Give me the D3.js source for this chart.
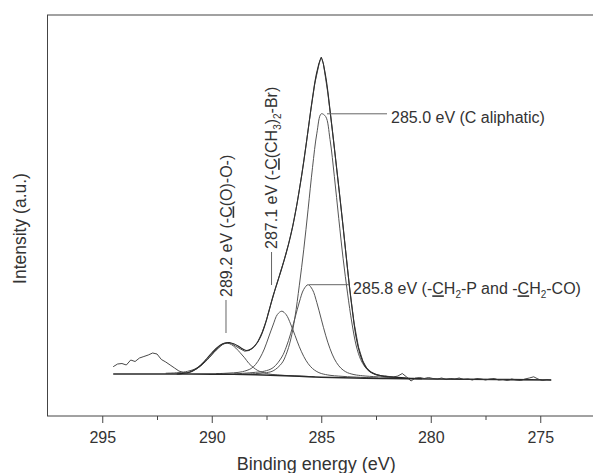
<!DOCTYPE html>
<html>
<head>
<meta charset="utf-8">
<script src="https://cdn.jsdelivr.net/npm/d3@7"></script>
<style>
  body { margin: 0; background: #fff; }
  svg text { font-family: "Liberation Sans", Arial, Helvetica, sans-serif; fill: #333; }
</style>
</head>
<body>
<div id="graph"></div>
<script>
// C 1s spectrum, [binding energy (eV), counts]
const rawSpectrum = [
  [294.5,493],[294.3,520],[294.1,525],[293.9,510],[293.7,560],[293.5,545],[293.3,580],[293.1,595],
  [292.9,610],[292.7,630],[292.5,620],[292.3,565],[292.1,540],[291.9,510],[291.7,480],[291.5,450],
  [291.3,435],[291.1,430],[290.9,445],[290.7,470],[290.5,500],[290.3,545],[290.1,590],[289.9,640],
  [289.7,680],[289.5,720],[289.3,733],[289.1,725],[288.9,697],[288.7,672],[288.5,648],[288.3,655],
  [288.1,685],[287.9,740],[287.7,835],[287.5,960],[287.3,1120],[287.1,1270],[286.9,1410],[286.7,1555],
  [286.5,1715],[286.3,1900],[286.1,2130],[285.9,2400],[285.7,2700],[285.5,3020],[285.3,3320],[285.1,3520],
  [285.0,3590],[284.9,3520],[284.7,3230],[284.5,2870],[284.3,2480],[284.1,2090],[283.9,1680],[283.7,1270],
  [283.5,930],[283.3,690],[283.1,550],[282.9,470],[282.7,435],[282.5,415],[282.3,405],[282.1,400],
  [281.9,395],[281.7,390],[281.5,400],[281.3,425],[281.1,390],[280.9,350],[280.7,380],[280.5,385],
  [280.3,375],[280.1,385],[279.9,375],[279.7,370],[279.5,380],[279.3,365],[279.1,375],[278.9,370],
  [278.7,380],[278.5,365],[278.3,370],[278.1,360],[277.9,375],[277.7,370],[277.5,360],[277.3,370],
  [277.1,375],[276.9,360],[276.7,365],[276.5,355],[276.3,370],[276.1,360],[275.9,355],[275.7,370],
  [275.5,380],[275.3,392],[275.1,370],[274.9,355],[274.7,365],[274.5,360]
]

// fitted envelope
const envelope = [
  [291.6,420],[291.4,424],[291.2,430],[291.0,440],[290.8,460],[290.6,490],[290.4,530],[290.2,580],
  [290.0,630],[289.8,675],[289.6,710],[289.4,730],[289.2,735],[289.0,722],[288.8,700],[288.6,672],
  [288.4,655],[288.2,670],[288.0,710],[287.8,780],[287.6,890],[287.4,1040],[287.2,1200],[287.0,1340],
  [286.8,1480],[286.6,1630],[286.4,1800],[286.2,2010],[286.0,2260],[285.8,2540],[285.6,2860],[285.4,3180],
  [285.2,3440],[285.0,3580],[284.8,3400],[284.6,3060],[284.4,2680],[284.2,2290],[284.0,1890],[283.8,1470],
  [283.6,1090],[283.4,780],[283.2,600],[283.0,500],[282.8,450],[282.6,425],[282.4,410],[282.2,400],
  [282.0,395],[281.6,388],[281.2,382],[280.8,376],[280.4,372]
]

// background
const baseline = [
  [294.5,420],[291.0,420],[290.0,419],[289.0,417],[288.0,412],[287.0,405],[286.0,397],
  [285.0,388],[284.0,382],[283.0,378],[282.0,375],[280.0,370],[277.0,365],[274.5,360]
]

// fitted components
const peakAliphatic = [
  [288.5,420],[288.0,424],[287.6,431],[287.2,451],[286.8,528],[286.6,617],[286.4,760],[286.2,989],
  [286.0,1308],[285.8,1662],[285.6,2068],[285.4,2483],[285.2,2828],[285.0,3022],[284.8,2995],[284.6,2766],
  [284.4,2393],[284.2,1973],[284.0,1572],[283.8,1229],[283.6,930],[283.4,700],[283.2,565],[283.0,490],
  [282.8,445],[282.6,420],[282.4,405],[282.0,390],[281.6,382],[281.0,374]
]
const peakCH2 = [
  [289.0,420],[288.0,437],[287.6,448],[287.2,483],[286.8,590],[286.6,689],[286.4,821],[286.2,980],
  [286.0,1140],[285.8,1266],[285.6,1313],[285.4,1263],[285.2,1133],[285.0,969],[284.8,808],[284.6,673],
  [284.4,571],[284.2,502],[284.0,459],[283.8,433],[283.6,419],[283.4,410],[283.0,400],[282.6,394],
  [282.0,387],[281.4,383]
]
const peakCBr = [
  [289.8,423],[289.4,427],[289.0,432],[288.6,443],[288.2,475],[288.0,515],[287.8,580],[287.6,670],
  [287.4,790],[287.2,910],[287.0,1016],[286.8,1048],[286.6,1013],[286.4,921],[286.2,807],[286.0,692],
  [285.8,596],[285.6,524],[285.4,475],[285.2,444],[285.0,425],[284.6,407],[284.2,399],[283.8,393],
  [283.4,389],[283.0,385],[282.4,380]
]
const peakCOO = [
  [292.1,428],[291.7,431],[291.3,439],[291.1,447],[290.9,459],[290.7,478],[290.5,506],[290.3,541],
  [290.1,586],[289.9,635],[289.7,680],[289.5,715],[289.3,728],[289.1,714],[288.9,679],[288.7,632],
  [288.5,582],[288.3,525],[288.1,485],[287.9,455],[287.7,437],[287.5,425],[287.3,417],[286.9,409],
  [286.5,404],[285.9,398],[285.3,393]
]

const majorTicks = [295, 290, 285, 280, 275]
const minorTicks = [292.5, 287.5, 282.5, 277.5]

// peak labels: where each leader line points, and the text pieces (u = underline, sub = subscript)
const labelEnergy = [284.92, 285.6, 289.35, 287.27]
const labelLevel = [3022, 1313, 830, 1310]
const labelParts = [
  [["285.0 eV (C aliphatic)", ""]],
  [["285.8 eV (-", ""], ["C", "u"], ["H", ""], ["2", "sub"], ["-P and -", ""], ["C", "u"], ["H", ""], ["2", "sub"], ["-CO)", ""]],
  [["289.2 eV (-", ""], ["C", "u"], ["(O)-O-)", ""]],
  [["287.1 eV (-", ""], ["C", "u"], ["(CH", ""], ["3", "sub"], [")", ""], ["2", "sub"], ["-Br)", ""]]
]
const labelVertical = [false, false, true, true]

const width = 593
const height = 473
const padLeft = 47.5, padRight = 595, padTop = 15, padBottom = 416

const svg = d3.select('#graph').append('svg')
  .attr('width', width)
  .attr('height', height)

const xScale = d3.scaleLinear().domain([297.5, 272.5]).range([padLeft, padRight])
const yScale = d3.scaleLinear().domain([0, 4010]).range([padBottom, padTop])

// frame
svg.append('rect')
  .attr('x', padLeft).attr('y', padTop)
  .attr('width', 600 - padLeft).attr('height', padBottom - padTop)
  .attr('fill', 'none').attr('stroke', '#444').attr('stroke-width', 1)

// x axis, major and minor ticks
const xAxis = d3.axisBottom(xScale).tickValues(majorTicks).tickSize(7).tickPadding(9).tickFormat(d3.format('d'))
const gx = svg.append('g').attr('transform', `translate(0,${padBottom})`).call(xAxis)
gx.select('.domain').remove()
gx.selectAll('line').attr('stroke', '#444')
gx.selectAll('text').style('font-size', '16px').attr('fill', '#333')

const xMinor = d3.axisBottom(xScale).tickValues(minorTicks).tickSize(4).tickFormat('')
const gm = svg.append('g').attr('transform', `translate(0,${padBottom})`).call(xMinor)
gm.select('.domain').remove()
gm.selectAll('line').attr('stroke', '#444')

// curves
const smooth = d3.line().x(d => xScale(d[0])).y(d => yScale(d[1])).curve(d3.curveCatmullRom)
const bent = d3.line().x(d => xScale(d[0])).y(d => yScale(d[1])).curve(d3.curveMonotoneX)
const straight = d3.line().x(d => xScale(d[0])).y(d => yScale(d[1]))

const components = [peakAliphatic, peakCH2, peakCBr, peakCOO]
svg.selectAll('.component')
  .data(components)
  .enter().append('path')
  .attr('class', 'component')
  .attr('d', smooth)
  .attr('fill', 'none').attr('stroke', '#555').attr('stroke-width', 1)

svg.append('path').attr('d', bent(baseline))
  .attr('fill', 'none').attr('stroke', '#2a2a2a').attr('stroke-width', 1.6)

svg.append('path').attr('d', smooth(envelope))
  .attr('fill', 'none').attr('stroke', '#222').attr('stroke-width', 1.1)

svg.append('path').attr('d', straight(rawSpectrum))
  .attr('fill', 'none').attr('stroke', '#333').attr('stroke-width', 0.9)

// peak labels with leader lines
function writeParts(text, parts) {
  let shift = 0
  parts.forEach(p => {
    const t = text.append('tspan').text(p[0])
    if (p[1] == 'sub') {
      t.attr('dy', 4 - shift).style('font-size', '10px')
      shift = 4
    } else {
      if (shift) t.attr('dy', -shift)
      shift = 0
      if (p[1] == 'u') t.style('text-decoration', 'underline')
    }
  })
}

labelEnergy.forEach((e, i) => {
  const x0 = xScale(e)
  const y0 = yScale(labelLevel[i])
  if (!labelVertical[i]) {
    const gap = i == 0 ? 4 : 1
    const len = i == 0 ? 60 : 40
    svg.append('line')
      .attr('x1', x0 + gap).attr('x2', x0 + gap + len)
      .attr('y1', y0).attr('y2', y0)
      .attr('stroke', '#666').attr('stroke-width', 1)
    const t = svg.append('text')
      .attr('x', x0 + gap + len + 4).attr('y', y0 + 4)
      .attr('dy', '0.35em')
      .style('font-size', '16px')
    writeParts(t, labelParts[i])
  } else {
    svg.append('line')
      .attr('x1', x0).attr('x2', x0)
      .attr('y1', y0).attr('y2', y0 - 33)
      .attr('stroke', '#666').attr('stroke-width', 1)
    const t = svg.append('text')
      .attr('transform', `translate(${x0},${y0 - 36}) rotate(-90)`)
      .attr('dy', '0.35em')
      .style('font-size', '16px')
    writeParts(t, labelParts[i])
  }
})

// axis titles
svg.append('text')
  .attr('x', (padLeft + padRight) / 2 - 5).attr('y', 470)
  .attr('text-anchor', 'middle')
  .style('font-size', '18px')
  .text('Binding energy (eV)')

svg.append('text')
  .attr('transform', `translate(26,${(padTop + padBottom) / 2 + 13}) rotate(-90)`)
  .attr('text-anchor', 'middle')
  .style('font-size', '17.5px')
  .text('Intensity (a.u.)')
</script>
</body>
</html>
